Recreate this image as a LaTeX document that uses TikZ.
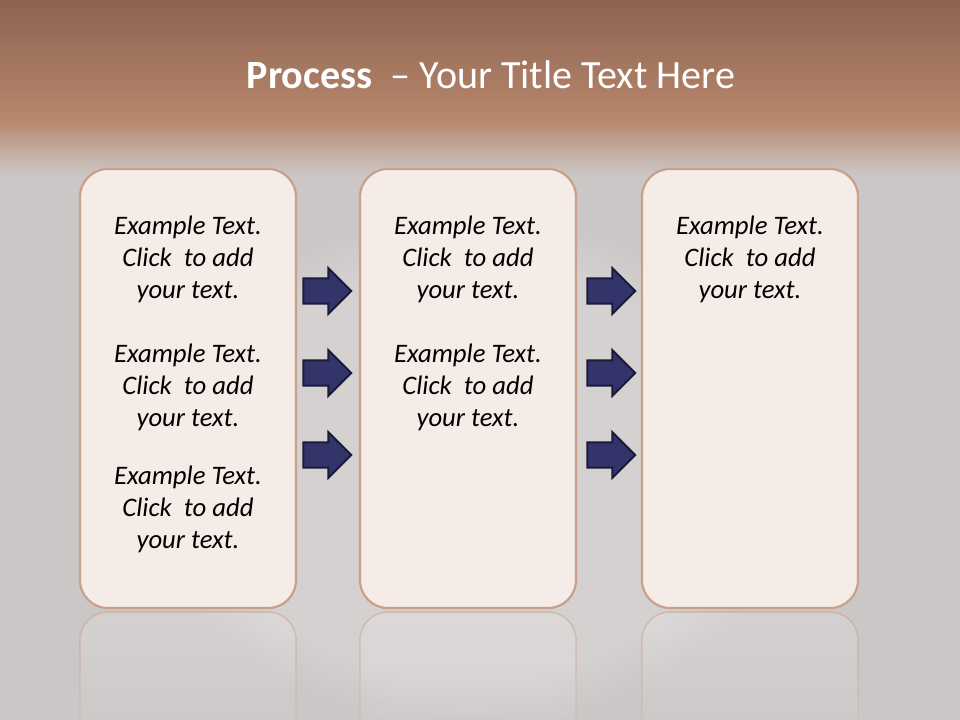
\documentclass[tikz,border=0pt]{standalone}
\usepackage{fontspec}
\setmainfont{Carlito}
\usetikzlibrary{shapes.arrows,fadings}
\definecolor{bandtop}{HTML}{8D6450}
\definecolor{bandlow}{HTML}{B8876D}
\definecolor{slate}{HTML}{CBC7C6}
\definecolor{paper}{HTML}{F5ECE8}
\definecolor{rim}{HTML}{C9A08A}
\definecolor{navy}{HTML}{33356A}
\definecolor{navyrim}{HTML}{1A1B3A}
\begin{document}
\begin{tikzpicture}[x=0.025cm, y=-0.025cm,
  card/.style={draw=rim, line width=1.6pt, fill=paper, rounded corners=0.7cm, minimum width=5.4cm, minimum height=10.975cm},
  ghost/.style={draw=rim, draw opacity=0.5, line width=1.2pt, fill=white, fill opacity=0.18, rounded corners=0.7cm},
  blurb/.style={align=center, font=\itshape\fontsize{19}{22.7}\selectfont, text=black},
  push/.style={single arrow, draw=navyrim, line width=1.4pt, fill=navy, minimum height=1.2cm, minimum width=1.15cm, inner xsep=0pt, inner ysep=0.28cm}
]
% background
\useasboundingbox (0,0) rectangle (960,720);
\fill[slate] (0,0) rectangle (960,720);
\fill[white, opacity=0.18, path fading=circle with fuzzy edge 20 percent] (470,470) ellipse (330 and 260);
\shade[top color=bandtop, bottom color=bandlow] (0,0) rectangle (960,121);
\shade[top color=bandlow, bottom color=slate] (0,120) rectangle (960,175);
\node[text=white, font=\fontsize{28.5}{32}\selectfont] (title) at (491,75) {\textbf{Process}~ -- Your Title Text Here};

% reflections
\foreach \cx in {188,468,750}
  \draw[ghost, path fading=south] (\cx-108,760) -- (\cx-108,612) -- (\cx+108,612) -- (\cx+108,760);

% cards
\node[card] (left) at (188,388.5) {};
\node[card] (mid) at (468,388.5) {};
\node[card] (right) at (750,388.5) {};

\node[blurb] (l1) at (188,259) {Example Text.\\Click~ to add\\your text.};
\node[blurb] (l2) at (188,387) {Example Text.\\Click~ to add\\your text.};
\node[blurb] (l3) at (188,509) {Example Text.\\Click~ to add\\your text.};
\node[blurb] (m1) at (468,259) {Example Text.\\Click~ to add\\your text.};
\node[blurb] (m2) at (468,387) {Example Text.\\Click~ to add\\your text.};
\node[blurb] (r1) at (750,259) {Example Text.\\Click~ to add\\your text.};

% arrows
\node[push] (p1) at (321,291) {};
\node[push] (p2) at (321,373) {};
\node[push] (p3) at (321,455) {};
\node[push] (q1) at (605,291) {};
\node[push] (q2) at (605,373) {};
\node[push] (q3) at (605,455) {};
\end{tikzpicture}
\end{document}
